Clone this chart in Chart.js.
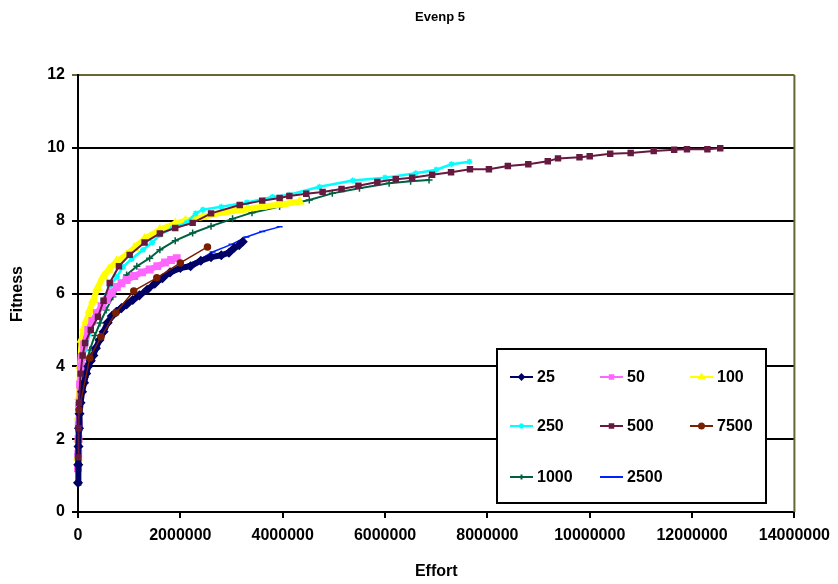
<!DOCTYPE html>
<html>
<head>
<meta charset="utf-8">
<title>Evenp 5</title>
<script src="https://cdn.jsdelivr.net/npm/chart.js@4.4.1/dist/chart.umd.min.js"></script>
<style>
  html, body { margin: 0; padding: 0; background: #fff; }
  #wrap { width: 838px; height: 584px; }
</style>
</head>
<body>
<div id="wrap"><canvas id="chart" width="838" height="584"></canvas></div>
<script>
// Evenp 5 — fitness vs effort, one series per population size

const titleText = 'Evenp 5';
const xTitle = 'Effort';
const yTitle = 'Fitness';

const seriesNames = ['25', '50', '100', '250', '500', '7500', '1000', '2500'];

// effort values (x) and fitness values (y)
const effort25  = [0, 5000, 10000, 20000, 30000, 50000, 80000, 120000, 160000, 200000, 250000, 300000, 350000, 420000, 500000, 580000, 660000, 750000, 850000, 950000, 1070000, 1200000, 1350000, 1500000, 1650000, 1800000, 2000000, 2200000, 2400000, 2600000, 2800000, 2950000, 3050000, 3150000, 3220000];
const fitness25 = [0.8, 1.3, 1.8, 2.3, 2.7, 3.0, 3.3, 3.55, 3.8, 4.0, 4.15, 4.3, 4.5, 4.72, 4.95, 5.2, 5.38, 5.5, 5.6, 5.7, 5.82, 5.95, 6.1, 6.27, 6.42, 6.58, 6.7, 6.75, 6.9, 7.0, 7.05, 7.12, 7.25, 7.33, 7.42];

const effort50  = [0, 5000, 10000, 15000, 25000, 40000, 60000, 80000, 120000, 200000, 280000, 370000, 460000, 560000, 660000, 760000, 850000, 950000, 1100000, 1250000, 1400000, 1550000, 1700000, 1820000, 1930000];
const fitness50 = [1.2, 1.6, 2.0, 2.4, 2.9, 3.5, 4.0, 4.26, 4.6, 5.0, 5.25, 5.46, 5.65, 5.82, 6.02, 6.18, 6.28, 6.37, 6.48, 6.58, 6.66, 6.75, 6.85, 6.92, 6.97];

const effort100  = [0, 5000, 10000, 20000, 40000, 70000, 120000, 170000, 230000, 300000, 380000, 490000, 600000, 750000, 950000, 1100000, 1300000, 1600000, 1900000, 2100000, 2440000, 2800000, 3200000, 3600000, 4000000, 4330000];
const fitness100 = [1.5, 2.0, 2.6, 3.16, 4.0, 4.73, 5.05, 5.27, 5.55, 5.82, 6.15, 6.46, 6.65, 6.88, 7.06, 7.25, 7.5, 7.75, 7.92, 8.0, 8.1, 8.22, 8.3, 8.38, 8.45, 8.52];

const effort250  = [0, 10000, 20000, 40000, 80000, 140000, 300000, 490000, 620000, 760000, 880000, 1050000, 1270000, 1450000, 1600000, 1850000, 2120000, 2300000, 2440000, 2800000, 3300000, 3800000, 4130000, 4720000, 5370000, 6000000, 6600000, 7000000, 7300000, 7650000];
const fitness250 = [1.3, 2.0, 2.6, 3.3, 3.9, 4.45, 5.19, 5.82, 6.2, 6.46, 6.73, 6.95, 7.2, 7.4, 7.61, 7.8, 7.94, 8.2, 8.3, 8.38, 8.5, 8.65, 8.71, 8.93, 9.1, 9.18, 9.3, 9.4, 9.55, 9.62];

const effort500  = [0, 10000, 20000, 50000, 90000, 140000, 250000, 390000, 500000, 620000, 800000, 1010000, 1300000, 1600000, 1900000, 2240000, 2600000, 3160000, 3600000, 3940000, 4130000, 4460000, 4780000, 5150000, 5480000, 5850000, 6210000, 6530000, 6920000, 7290000, 7660000, 8030000, 8400000, 8800000, 9180000, 9380000, 9800000, 10000000, 10400000, 10800000, 11250000, 11650000, 11900000, 12300000, 12550000];
const fitness500 = [1.5, 2.3, 3.0, 3.8, 4.3, 4.64, 5.0, 5.36, 5.8, 6.29, 6.75, 7.06, 7.4, 7.65, 7.8, 7.94, 8.2, 8.43, 8.55, 8.62, 8.68, 8.74, 8.79, 8.87, 8.96, 9.06, 9.14, 9.18, 9.26, 9.33, 9.41, 9.41, 9.5, 9.55, 9.63, 9.71, 9.74, 9.77, 9.84, 9.86, 9.91, 9.95, 9.96, 9.96, 9.99];

const effort7500  = [20000, 230000, 450000, 740000, 1090000, 1540000, 2000000, 2530000];
const fitness7500 = [2.8, 4.23, 4.81, 5.47, 6.07, 6.43, 6.84, 7.28];

const effort1000  = [0, 10000, 20000, 50000, 90000, 150000, 230000, 330000, 430000, 550000, 680000, 800000, 950000, 1150000, 1400000, 1600000, 1900000, 2240000, 2600000, 3020000, 3400000, 3940000, 4520000, 4970000, 5500000, 6080000, 6500000, 6860000];
const fitness1000 = [1.6, 2.2, 2.9, 3.3, 3.63, 4.0, 4.45, 4.85, 5.19, 5.55, 5.91, 6.2, 6.51, 6.75, 6.97, 7.2, 7.45, 7.66, 7.85, 8.05, 8.22, 8.39, 8.57, 8.75, 8.89, 9.03, 9.08, 9.12];

const effort2500  = [0, 20000, 60000, 150000, 300000, 500000, 700000, 1000000, 1500000, 2000000, 2400000, 2630000, 3000000, 3290000, 3600000, 3940000];
const fitness2500 = [1.4, 2.6, 3.2, 3.7, 4.3, 4.95, 5.45, 5.8, 6.3, 6.72, 6.95, 7.14, 7.35, 7.55, 7.7, 7.83];

const xTicks = [0, 2000000, 4000000, 6000000, 8000000, 10000000, 12000000, 14000000];
const yTicks = [0, 2, 4, 6, 8, 10, 12];

const effortData  = [effort25, effort50, effort100, effort250, effort500, effort7500, effort1000, effort2500];
const fitnessData = [fitness25, fitness50, fitness100, fitness250, fitness500, fitness7500, fitness1000, fitness2500];

// look of each series, same order as seriesNames
const styles = [
  { color: '#000066', pointStyle: 'rectRot',  radius: 4,   line: 6,   order: 2 },
  { color: '#FF66FF', pointStyle: 'rect',     radius: 4.5, line: 6,   order: 3 },
  { color: '#FFFF00', pointStyle: 'triangle', radius: 4.5, line: 6,   order: 4 },
  { color: '#00FFFF', pointStyle: 'star',     radius: 3,   line: 2.5, order: 3 },
  { color: '#661A40', pointStyle: 'rect',     radius: 3.5, line: 2,   order: 1 },
  { color: '#7A2000', pointStyle: 'circle',   radius: 3,   line: 1.5, order: 1 },
  { color: '#006040', pointStyle: 'cross',    radius: 3.5, line: 2,   order: 5 },
  { color: '#0022FF', pointStyle: 'line',     radius: 3,   line: 1.5, order: 6 },
];

const FONT = "'Liberation Sans', Arial, sans-serif";

const datasets = seriesNames.map((name, i) => ({
  label: name,
  data: effortData[i].map((x, j) => ({ x, y: fitnessData[i][j] })),
  showLine: true,
  borderColor: styles[i].color,
  backgroundColor: styles[i].color,
  borderWidth: styles[i].line,
  pointStyle: styles[i].pointStyle,
  pointRadius: styles[i].radius,
  pointBorderWidth: 1.5,
  pointHoverRadius: styles[i].radius,
  order: styles[i].order,
  clip: 6,
  tension: 0,
}));

// title, axis titles, boxed legend and the olive frame edge
const decorPlugin = {
  id: 'decor',
  afterDraw(chart) {
    const { ctx, chartArea: a } = chart;
    ctx.save();

    ctx.strokeStyle = '#666633';
    ctx.lineWidth = 2;
    ctx.beginPath();
    ctx.moveTo(a.right, a.top);
    ctx.lineTo(a.right, a.bottom);
    ctx.stroke();

    ctx.fillStyle = '#000';
    ctx.textAlign = 'center';
    ctx.textBaseline = 'middle';
    ctx.font = 'bold 13px ' + FONT;
    ctx.fillText(titleText, 440, 17);

    ctx.font = 'bold 16px ' + FONT;
    ctx.fillText(xTitle, (a.left + a.right) / 2, 572);
    ctx.save();
    ctx.translate(18, 294);
    ctx.rotate(-Math.PI / 2);
    ctx.fillText(yTitle, 0, 0);
    ctx.restore();

    // legend box
    ctx.fillStyle = '#fff';
    ctx.fillRect(497, 349, 269, 154);
    ctx.strokeStyle = '#000';
    ctx.lineWidth = 2;
    ctx.strokeRect(497, 349, 269, 154);

    const cols = [510, 600, 690];
    const rows = [377, 426, 477];
    ctx.font = 'bold 16px ' + FONT;
    ctx.textAlign = 'left';
    chart.data.datasets.forEach((ds, i) => {
      const x = cols[i % 3];
      const y = rows[Math.floor(i / 3)];
      ctx.strokeStyle = ds.borderColor;
      ctx.fillStyle = ds.borderColor;
      ctx.lineWidth = 2;
      ctx.beginPath();
      ctx.moveTo(x, y);
      ctx.lineTo(x + 23, y);
      ctx.stroke();
      Chart.helpers.drawPoint(ctx, {
        pointStyle: ds.pointStyle,
        radius: 2.5,
        rotation: 0,
        borderWidth: 1.5,
      }, x + 11.5, y);
      ctx.fillStyle = '#000';
      ctx.fillText(ds.label, x + 27, y + 1);
    });

    ctx.restore();
  },
};

new Chart(document.getElementById('chart'), {
  type: 'scatter',
  data: { datasets },
  options: {
    responsive: false,
    animation: false,
    events: [],
    layout: { padding: { top: 75, right: 42, left: 0, bottom: 0 } },
    plugins: {
      legend: { display: false },
      title: { display: false },
      tooltip: { enabled: false },
    },
    scales: {
      x: {
        type: 'linear',
        min: 0,
        max: 14000000,
        afterFit: s => { s.height = 72; },
        afterBuildTicks: s => { s.ticks = xTicks.map(v => ({ value: v })); },
        ticks: {
          color: '#000',
          font: { family: FONT, size: 16, weight: 'bold' },
          padding: 8,
          maxRotation: 0,
          autoSkip: false,
          callback: v => String(v),
        },
        grid: { drawOnChartArea: false, drawTicks: true, tickLength: 6, color: '#000', lineWidth: 2 },
        border: { color: '#000', width: 2 },
      },
      y: {
        min: 0,
        max: 12,
        afterFit: s => { s.width = 78; },
        afterBuildTicks: s => { s.ticks = yTicks.map(v => ({ value: v })); },
        ticks: {
          color: '#000',
          font: { family: FONT, size: 16, weight: 'bold' },
          padding: 7,
        },
        grid: {
          color: c => (c.tick && c.tick.value === 12 ? '#666633' : '#000'),
          lineWidth: 2,
          tickLength: 6,
        },
        border: { color: '#000', width: 2 },
      },
    },
  },
  plugins: [decorPlugin],
});
</script>
</body>
</html>
